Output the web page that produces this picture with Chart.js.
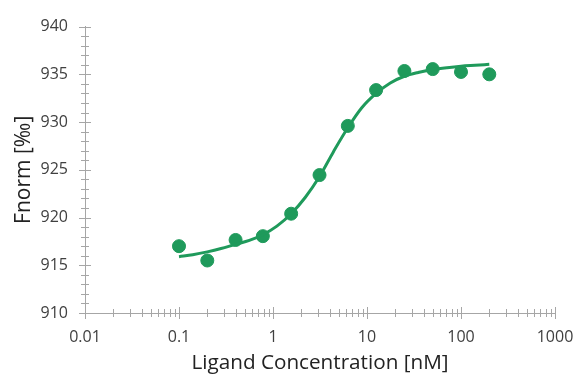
<!DOCTYPE html>
<html>
<head>
<meta charset="utf-8">
<script src="https://cdn.jsdelivr.net/npm/chart.js@4"></script>
<style>
  html, body { margin: 0; padding: 0; background: #fff; }
  #wrap { width: 576px; height: 376px; }
</style>
</head>
<body>
<div id="wrap"><canvas id="grafico"></canvas></div>
<script>
// measured points (concentration nM -> Fnorm)
const concentraciones = [0.1, 0.2, 0.4, 0.78, 1.56, 3.125, 6.25, 12.5, 25, 50, 100, 200];
const fnorm = [917.0, 915.5, 917.65, 918.05, 920.4, 924.45, 929.6, 933.35, 935.35, 935.55, 935.25, 935.0];

// fitted curve
const ajusteX = [0.1, 0.14, 0.2, 0.28, 0.4, 0.56, 0.78, 1.1, 1.56, 2.2, 3.125, 4.4, 6.25, 8.8, 12.5, 17.7, 25, 35, 50, 71, 100, 141, 200];
const ajusteY = [915.9, 916.1, 916.4, 916.75, 917.2, 917.6, 918.2, 919.1, 920.4, 922.1, 924.3, 926.9, 929.4, 931.5, 933.0, 934.1, 934.8, 935.2, 935.5, 935.7, 935.85, 935.95, 936.05];

const decadas = [0.01, 0.1, 1, 10, 100, 1000];
const etiquetasX = ["0.01", "0.1", "1", "10", "100", "1000"];
const etiquetasY = [910, 915, 920, 925, 930, 935, 940];

const verde = "#1f9a5b";
const gris = "#a6a6a6";
const texto = "#404040";
const titulo = "#222222";

// ticks that cross the axis line, like the original
const ticksCruzados = {
  id: "ticksCruzados",
  afterDraw(chart) {
    const c = chart.ctx;
    const x = chart.scales.x, y = chart.scales.y;
    c.save();
    c.strokeStyle = gris;
    c.lineWidth = 1;
    x.ticks.forEach(t => {
      const px = Math.round(x.getPixelForValue(t.value)) + 0.5;
      const l = decadas.includes(t.value) ? 6 : 4;
      c.beginPath();
      c.moveTo(px, x.top - l);
      c.lineTo(px, x.top + l);
      c.stroke();
    });
    y.ticks.forEach(t => {
      const py = Math.round(y.getPixelForValue(t.value)) + 0.5;
      const l = etiquetasY.includes(t.value) ? 6 : 4;
      c.beginPath();
      c.moveTo(y.right - l, py);
      c.lineTo(y.right + l, py);
      c.stroke();
    });
    c.restore();
  }
};

const ctx = document.getElementById("grafico").getContext("2d");
new Chart(ctx, {
  type: "scatter",
  data: {
    datasets: [
      {
        label: "Ajuste",
        data: ajusteX.map((v, i) => ({ x: v, y: ajusteY[i] })),
        showLine: true,
        borderColor: verde,
        borderWidth: 3,
        pointRadius: 0,
        cubicInterpolationMode: "monotone",
        fill: false
      },
      {
        label: "Datos",
        data: concentraciones.map((v, i) => ({ x: v, y: fnorm[i] })),
        backgroundColor: verde,
        borderColor: verde,
        pointRadius: 6.5,
        showLine: false
      }
    ]
  },
  options: {
    responsive: true,
    maintainAspectRatio: false,
    animation: false,
    layout: { padding: { top: 24, right: 21, left: 11, bottom: 0 } },
    plugins: {
      legend: { display: false },
      tooltip: { enabled: false }
    },
    scales: {
      x: {
        type: "logarithmic",
        min: 0.01,
        max: 1000,
        afterBuildTicks(scale) {
          const ts = [];
          decadas.forEach((d, i) => {
            if (i === decadas.length - 1) { ts.push({ value: d }); return; }
            for (let k = 1; k <= 9; k++) ts.push({ value: +(d * k).toPrecision(3) });
          });
          scale.ticks = ts;
        },
        afterFit(scale) {
          scale.height = 63;
          scale.paddingLeft = 0;
          scale.paddingRight = 0;
        },
        grid: { display: false, drawTicks: false },
        border: { display: true, color: gris, width: 1 },
        ticks: {
          autoSkip: false,
          maxRotation: 0,
          padding: 15,
          color: texto,
          font: { family: "Open Sans", size: 16 },
          callback(v) {
            const i = decadas.indexOf(+v);
            return i >= 0 ? etiquetasX[i] : "";
          }
        },
        title: {
          display: true,
          text: "Ligand Concentration [nM]",
          color: titulo,
          font: { family: "Open Sans", size: 20.7 },
          padding: { top: 0, bottom: 0 }
        }
      },
      y: {
        min: 910,
        max: 940,
        afterFit(scale) { scale.width = 74; },
        grid: { display: false, drawTicks: false },
        border: { display: true, color: gris, width: 1 },
        ticks: {
          stepSize: 1,
          autoSkip: false,
          padding: 17,
          color: texto,
          font: { family: "Open Sans", size: 16 },
          callback(v) { return etiquetasY.includes(v) ? String(v) : ""; }
        },
        title: {
          display: true,
          text: "Fnorm [‰]",
          color: titulo,
          font: { family: "Open Sans", size: 21 },
          padding: { top: 0, bottom: 0 }
        }
      }
    }
  },
  plugins: [ticksCruzados]
});
</script>
</body>
</html>
